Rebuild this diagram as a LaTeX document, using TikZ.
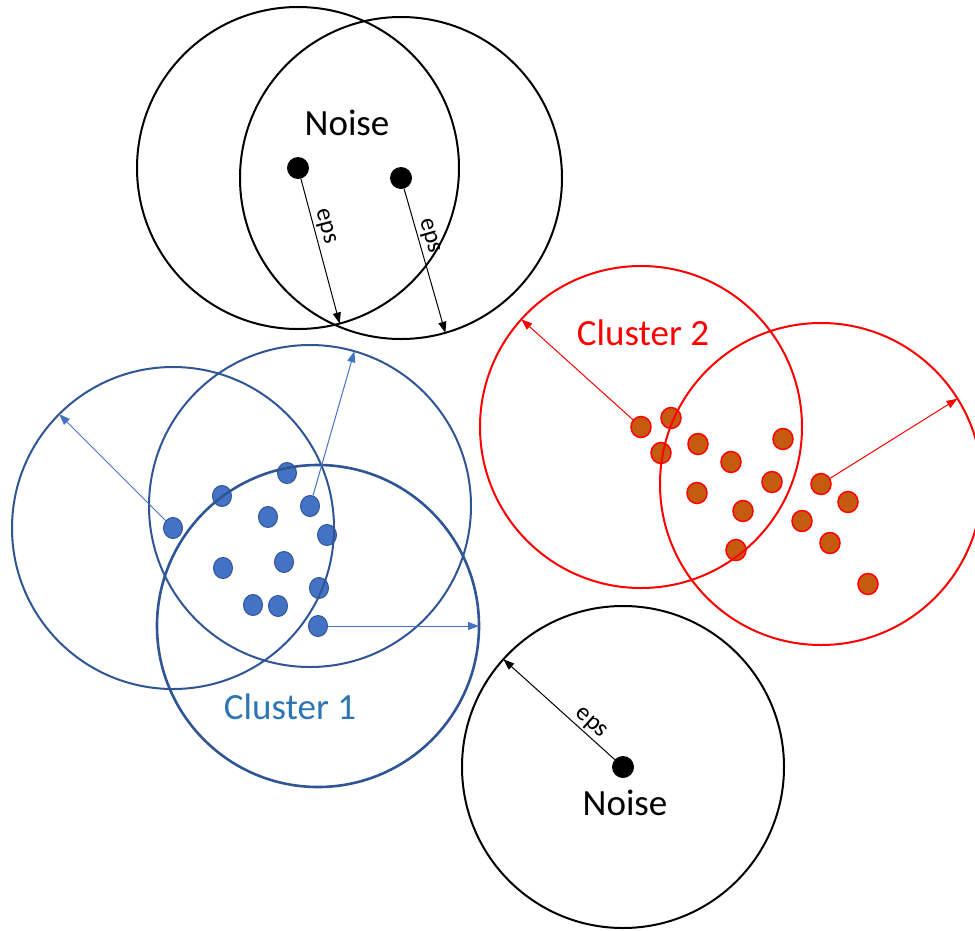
\documentclass[tikz,border=0pt]{standalone}
\usepackage{fontspec}
\setmainfont{Carlito}
\usetikzlibrary{arrows.meta,shapes.geometric}
\definecolor{ringblue}{RGB}{47,85,151}
\definecolor{dotblue}{RGB}{68,114,196}
\definecolor{textblue}{RGB}{46,117,182}
\definecolor{dotbrown}{RGB}{197,90,17}
\begin{document}
\begin{tikzpicture}[x=1pt,y=-1pt,
  noisering/.style={circle,draw,line width=2pt,minimum size=322pt,inner sep=0pt,outer sep=0pt},
  bluering/.style={noisering,draw=ringblue},
  redring/.style={noisering,draw=red},
  noisedot/.style={circle,fill=black,minimum size=22pt,inner sep=0pt},
  bluedot/.style={ellipse,fill=dotblue,draw=ringblue,line width=1pt,minimum width=19pt,minimum height=21pt,inner sep=0pt},
  reddot/.style={ellipse,fill=dotbrown,draw=red,line width=1.5pt,minimum width=20pt,minimum height=21pt,inner sep=0pt},
  epsarrow/.style={-{Triangle[length=11pt,width=8pt]},line width=1pt},
  epslabel/.style={sloped,above,pos=0.35,inner sep=2pt,font=\fontsize{25}{28}\selectfont},
  bigtext/.style={font=\fontsize{37}{42}\selectfont}]
\useasboundingbox (0,0) rectangle (975,930);
\clip (0,0) rectangle (975,930);
% noise points
\node[noisedot] (n1) at (298,168) {};
\node[noisedot] (n2) at (401,178) {};
\node[noisedot] (n3) at (623,767) {};
\node[noisering] (ringn1) at (n1) {};
\node[noisering] (ringn2) at (n2) {};
\node[noisering] (ringn3) at (n3) {};
\draw[epsarrow] (n1) -- (ringn1.-75) node[epslabel]{eps};
\draw[epsarrow] (n2) -- (ringn2.-74) node[epslabel]{eps};
\draw[epsarrow] (n3) -- (ringn3.138) node[epslabel,pos=0.28]{eps};
\node[bigtext] (noisetop) at (347,123) {Noise};
\node[bigtext] (noisebottom) at (625,803) {Noise};
% cluster 1
\foreach \x/\y [count=\i] in {173/528,222/496,287/473,310/506,268/517,327/535,223/568,284/562,319/588,253/605,278/606,318/626}
  \node[bluedot] (b\i) at (\x,\y) {};
\node[bluering] (ringb1) at (b1) {};
\node[bluering] (ringb4) at (b4) {};
\node[bluering,line width=2.6pt] (ringb12) at (b12) {};
\draw[epsarrow,dotblue] (b1) -- (ringb1.135.5);
\draw[epsarrow,dotblue] (b4) -- (ringb4.74.5);
\draw[epsarrow,dotblue] (b12) -- (ringb12.0);
\node[bigtext,textblue] (cluster1) at (290,707) {Cluster 1};
% cluster 2
\foreach \x/\y [count=\i] in {641/427,671/418,661/453,698/444,731/462,783/439,772/482,697/493,743/511,736/550,821/484,848/502,802/521,830/543,868/584}
  \node[reddot] (r\i) at (\x,\y) {};
\node[redring] (ringr1) at (r1) {};
\node[redring] (ringr11) at (r11) {};
\draw[epsarrow,red] (r1) -- (ringr1.138.8);
\draw[epsarrow,red] (r11) -- (ringr11.32.6);
\node[bigtext,red] (cluster2) at (643,333) {Cluster 2};
\end{tikzpicture}
\end{document}
